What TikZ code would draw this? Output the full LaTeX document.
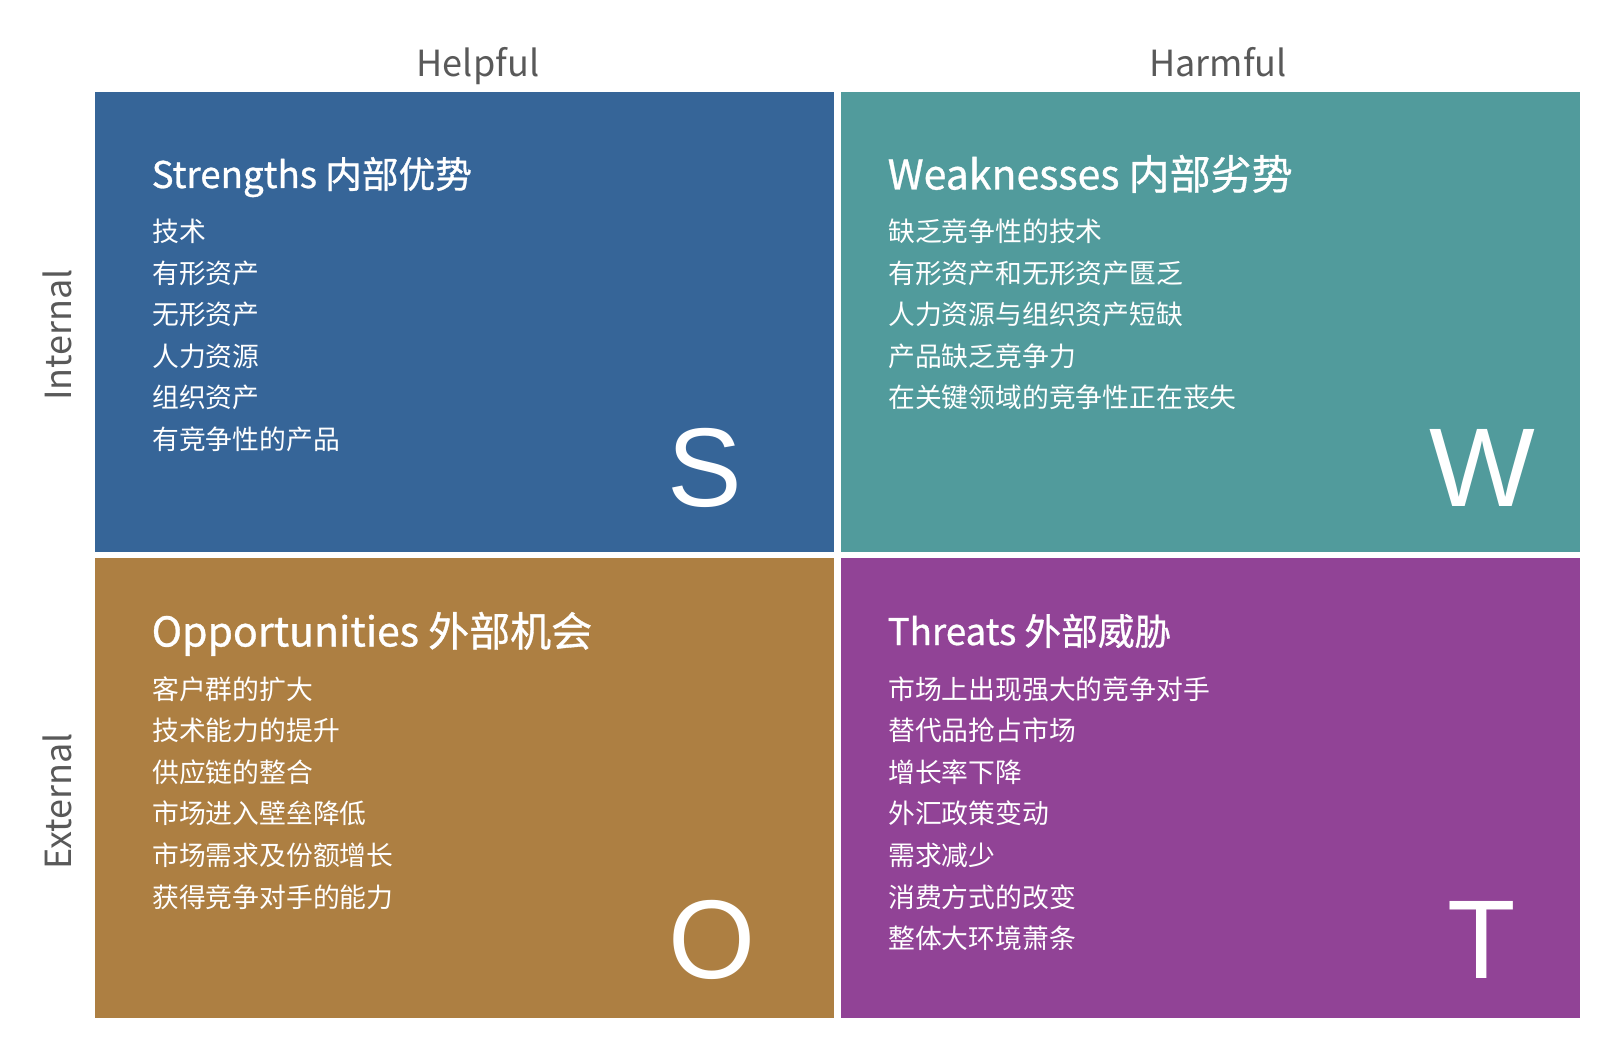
\documentclass[tikz,border=0pt]{standalone}
\usepackage{fontspec}
\setmainfont{Noto Sans CJK SC}
\newfontfamily\titlefont[FakeBold=0.8]{Noto Sans CJK SC}
\newfontfamily\letterfont{Liberation Sans}
\definecolor{sblue}{HTML}{366598}
\definecolor{wteal}{HTML}{519B9C}
\definecolor{obrown}{HTML}{AD7F42}
\definecolor{tpurple}{HTML}{914396}
\definecolor{axisgray}{HTML}{595959}
\begin{document}
\begin{tikzpicture}[x=1pt,y=-1pt,
  panelbox/.style={fill=#1, draw=none, minimum width=739pt, minimum height=460pt, anchor=north west, inner sep=0pt, outer sep=0pt},
  paneltitle/.style={anchor=base west, text=white, inner sep=0pt, font=\titlefont\fontsize{36.7}{36.7}\selectfont},
  bigtitle/.style={anchor=base west, text=white, inner sep=0pt, font=\titlefont\fontsize{41}{41}\selectfont},
  item/.style={anchor=base west, text=white, inner sep=0pt, font=\fontsize{26.8}{26.8}\selectfont},
  bigletter/.style={anchor=base, text=white, inner sep=0pt, font=\letterfont\fontsize{112}{112}\selectfont},
  axislabel/.style={anchor=base, text=axisgray, inner sep=0pt, font=\fontsize{36}{36}\selectfont}]
\useasboundingbox (0,0) rectangle (1612,1048);
\fill[white] (0,0) rectangle (1612,1048);
% panels
\node[panelbox=sblue] (S) at (95,92) {};
\node[panelbox=wteal] (W) at (841,92) {};
\node[panelbox=obrown] (O) at (95,558) {};
\node[panelbox=tpurple] (T) at (841,558) {};
% axis labels
\node[axislabel] (helpful) at (478,77) {Helpful};
\node[axislabel] (harmful) at (1218,77) {Harmful};
\node[axislabel, rotate=90] (internal) at (71,335) {Internal};
\node[axislabel, rotate=90] (external) at (71,801) {External};
% titles
\node[paneltitle] (st) at (151.5,188) {Strengths 内部优势};
\node[bigtitle] (wt) at (887.5,189.5) {Weaknesses 内部劣势};
\node[bigtitle] (ot) at (151.5,646.5) {Opportunities 外部机会};
\node[paneltitle] (tt) at (887.5,645) {Threats 外部威胁};
% items
\foreach \t [count=\i] in {技术,有形资产,无形资产,人力资源,组织资产,有竞争性的产品}
  \node[item] (s\i) at (152,{241.5+41.6*(\i-1)}) {\t};
\foreach \t [count=\i] in {缺乏竞争性的技术,有形资产和无形资产匮乏,人力资源与组织资产短缺,产品缺乏竞争力,在关键领域的竞争性正在丧失}
  \node[item] (w\i) at (888,{241.5+41.6*(\i-1)}) {\t};
\foreach \t [count=\i] in {客户群的扩大,技术能力的提升,供应链的整合,市场进入壁垒降低,市场需求及份额增长,获得竞争对手的能力}
  \node[item] (o\i) at (152,{699+41.6*(\i-1)}) {\t};
\foreach \t [count=\i] in {市场上出现强大的竞争对手,替代品抢占市场,增长率下降,外汇政策变动,需求减少,消费方式的改变,整体大环境萧条}
  \node[item] (t\i) at (888,{699+41.6*(\i-1)}) {\t};
% big letters
\node[bigletter] (sl) at (704.5,506) {S};
\node[bigletter] (wl) at (1482.5,506) {W};
\node[bigletter] (ol) at (712,978) {O};
\node[bigletter] (tl) at (1482,978) {T};
\end{tikzpicture}
\end{document}
